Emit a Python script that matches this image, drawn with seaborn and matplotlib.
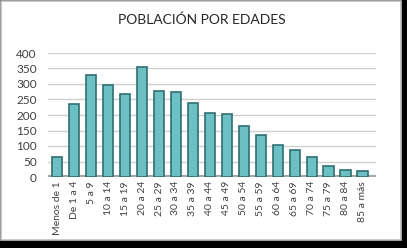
import matplotlib
matplotlib.use("Agg")
import matplotlib.pyplot as plt
import seaborn as sns
import pandas as pd
from matplotlib.patches import Rectangle

categories = ["Menos de 1", "De 1 a 4", "5 a 9", "10 a 14", "15 a 19", "20 a 24",
              "25 a 29", "30 a 34", "35 a 39", "40 a 44", "45 a 49", "50 a 54",
              "55 a 59", "60 a 64", "65 a 69", "70 a 74", "75 a 79", "80 a 84",
              "85 a más"]
values = [65, 235, 330, 298, 268, 355, 277, 273, 240, 205, 203, 165,
          135, 103, 87, 63, 35, 22, 20]
yticks = [0, 50, 100, 150, 200, 250, 300, 350, 400]
title = "POBLACIÓN POR EDADES"

sns.set_theme(style="white")
plt.rcParams['font.family'] = ['Lato', 'DejaVu Sans']

W, H = 407, 248
fig = plt.figure(figsize=(W / 100, H / 100), dpi=100)
fig.patch.set_facecolor("black")

# background card
bg = fig.add_axes([0, 0, 1, 1], zorder=-10)
bg.set_xlim(0, W)
bg.set_ylim(H, 0)
bg.axis("off")
bg.add_patch(Rectangle((0.5, 0.5), 400, 239, facecolor="white", edgecolor="#bfbfbf", linewidth=1.2))

ax = fig.add_axes([48 / W, 1 - 177 / H, (376 - 48) / W, (177 - 53) / H])
ax.set_facecolor("none")

df = pd.DataFrame({"cat": categories, "val": values})
sns.barplot(data=df, x="cat", y="val", ax=ax, color="#6cbfc3", width=0.6,
            edgecolor="#2f6f72", linewidth=1.2, saturation=1, zorder=3)

ax.set_ylim(0, 400)
ax.set_xlim(-0.55, 18.8)
ax.set_yticks(yticks)
ax.set_yticklabels([str(v) for v in yticks], fontsize=8.5, color="#404040")
ax.yaxis.grid(True, color="#d0d0d0", linewidth=1.0, zorder=0)
ax.set_axisbelow(True)
ax.tick_params(axis="x", labelrotation=90, labelsize=7.5, colors="#404040", length=0, pad=3)
ax.tick_params(axis="y", length=0, pad=8)
for s in ax.spines.values():
    s.set_visible(False)
ax.axhline(0, color="#a6a6a6", linewidth=3, zorder=2)
ax.set_xlabel("")
ax.set_ylabel("")

fig.text(202 / W, 1 - 20 / H, title, ha="center", va="center", fontsize=10, color="#262626")

fig.savefig("out.png", dpi=100, facecolor=fig.get_facecolor())
